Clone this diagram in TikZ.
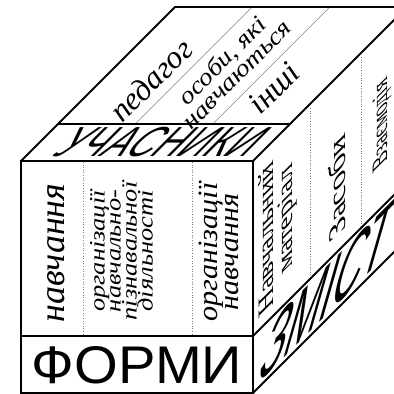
\documentclass[tikz,border=0pt]{standalone}
\usepackage{fontspec}
\setmainfont{Liberation Serif}
\newfontfamily\cubesans{Liberation Sans}
\usetikzlibrary{calc}

\tikzset{
  rib/.style={line width=1.8pt},
  colsep/.style={gray,dotted,line width=.6pt},
  topsep/.style={gray,line width=.5pt},
  word/.style={inner sep=0pt,align=center},
}

\begin{document}
\begin{tikzpicture}[x=1pt,y=1pt,line join=miter]
\useasboundingbox (0,0) rectangle (394,394);
\clip (0,0) rectangle (394,394);
% front face, depth step is (154,154)
\coordinate (fbl) at (21,1); \coordinate (fbr) at (253,1);
\coordinate (ftl) at (21,233); \coordinate (ftr) at (253,233);
\coordinate (btl) at ($(ftl)+(154,154)$); \coordinate (btr) at ($(ftr)+(154,154)$);
\coordinate (bbr) at ($(fbr)+(154,154)$);
% thin dividers
\foreach \x in {83,192}{\draw[colsep] (\x,232) -- (\x,58);}
\foreach \u in {57,108}{\draw[colsep] (253+\u,229+\u) -- (253+\u,58+\u);}
\foreach \s in {77.3,154.7}{\draw[topsep] ($(btl)+(\s,0)$) -- ($(ftl)+(\s+37,37)$);}
% top face
\node[word,rotate=45,font=\itshape\fontsize{32}{32}\selectfont] (pedagog) at (151,314) {педагог};
\node[word,rotate=45,xscale=1.15,font=\itshape\fontsize{24}{20}\selectfont] (osoby) at (229,327) {особи, які\\навчаються};
\node[word,rotate=45,font=\itshape\fontsize{32}{32}\selectfont] (inshi) at (274,306) {інші};
% front face
\node[word,rotate=90,font=\itshape\fontsize{36}{36}\selectfont] (navch) at (56,141) {навчання};
\node[word,rotate=90,xscale=1.2,font=\itshape\fontsize{22}{16}\selectfont] (orgpizn) at (121.5,143) {організації\\навчально-\\пізнавальної\\діяльності};
\node[word,rotate=90,xscale=1.08,font=\itshape\fontsize{28}{21}\selectfont] (orgnavch) at (219,142) {організації\\навчання};
% right face, texts follow the face
\node[word,yslant=1,rotate=90,xscale=1.3,font=\fontsize{22}{19}\selectfont] (material) at (278,166) {Навчальний\\матеріал};
\node[word,yslant=1,rotate=90,xscale=1.4,font=\fontsize{24}{24}\selectfont] (zasoby) at (337,205) {Засоби};
\node[word,yslant=1,rotate=90,xscale=.9,font=\fontsize{22}{22}\selectfont] (vzaiem) at (382,271) {Взаємодія};
% bands
\node[word,xscale=1.06,font=\cubesans\fontsize{53}{53}\selectfont] (formy) at (137,29) {ФОРМИ};
\node[word,xslant=1,xscale=.86,font=\cubesans\fontsize{42}{42}\selectfont] (uchasn) at (163,251.5) {УЧАСНИКИ};
\node[word,yslant=1,xslant=.4,xscale=.6,font=\cubesans\fontsize{70}{70}\selectfont] (zmist) at (328,104.5) {ЗМІСТ};
% outline
\draw[rib] (fbl) rectangle (ftr);
\draw[rib] (ftl) -- (btl) -- (btr) -- (bbr) -- (fbr);
\draw[rib] (ftr) -- (btr);
\draw[rib] (21,58) -- (253,58) -- ++(154,154);
\draw[rib] ($(ftl)+(37,37)$) -- ($(ftr)+(37,37)$);
\end{tikzpicture}
\end{document}
